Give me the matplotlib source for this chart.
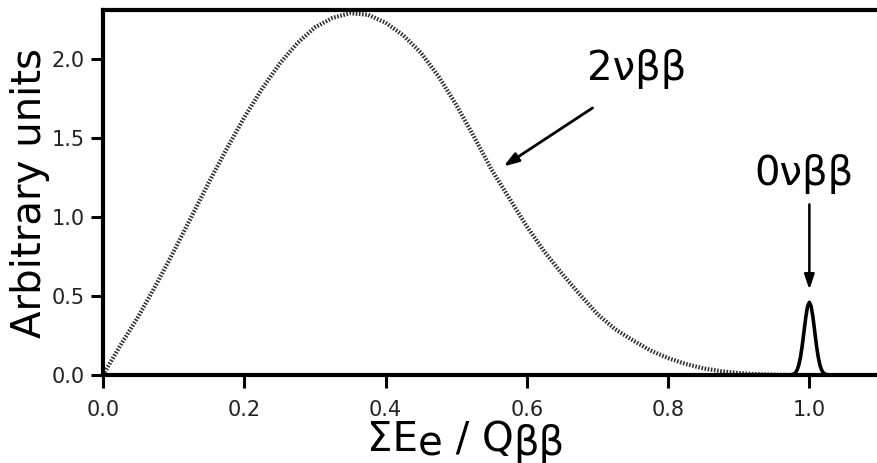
import matplotlib
matplotlib.use('Agg')
import matplotlib.pyplot as plt
import numpy as np

# 2vbb continuum (x in units of Q)
twoNuX = [0.000, 0.025, 0.050, 0.075, 0.100, 0.125, 0.150, 0.175, 0.200,
          0.225, 0.250, 0.275, 0.300, 0.325, 0.350, 0.375, 0.400, 0.425,
          0.450, 0.475, 0.500, 0.525, 0.550, 0.575, 0.600, 0.625, 0.650,
          0.675, 0.700, 0.725, 0.750, 0.775, 0.800, 0.825, 0.850, 0.875,
          0.900, 0.925, 0.950, 0.975, 1.000]
twoNuY = [0.00, 0.19, 0.37, 0.57, 0.78, 1.00, 1.22, 1.43, 1.63,
          1.81, 1.97, 2.10, 2.20, 2.26, 2.29, 2.28, 2.23, 2.15,
          2.04, 1.89, 1.71, 1.51, 1.30, 1.12, 0.94, 0.78, 0.64,
          0.51, 0.385, 0.29, 0.22, 0.155, 0.107, 0.07, 0.042, 0.024,
          0.012, 0.005, 0.002, 0.0, 0.0]

# 0vbb peak at the endpoint
zeroNuX = [0.940, 0.970, 0.975, 0.9775, 0.980, 0.9825, 0.985, 0.9875, 0.990,
           0.9925, 0.995, 0.9975, 1.000, 1.0025, 1.005, 1.0075, 1.010,
           1.0125, 1.015, 1.0175, 1.020, 1.0225, 1.025, 1.030, 1.060]
zeroNuY = [0.0, 0.0, 0.002, 0.005, 0.013, 0.030, 0.062, 0.115, 0.189,
           0.279, 0.368, 0.435, 0.460, 0.435, 0.368, 0.279, 0.189,
           0.115, 0.062, 0.030, 0.013, 0.005, 0.002, 0.0, 0.0]

xTicks = [0.0, 0.2, 0.4, 0.6, 0.8, 1.0]
yTicks = [0.0, 0.5, 1.0, 1.5, 2.0]

# figure settings
figW, figH, figDPI = 877, 463, 100
labelSize = 29
tickSize = 15
tickColor = '#222222'

fig = plt.figure(figsize=(figW / figDPI, figH / figDPI), dpi=figDPI)
ax = fig.add_axes([103 / figW, 88 / figH, 777 / figW, 365 / figH])

ax.plot(twoNuX, twoNuY, color='#303030', lw=3.0,
        linestyle=(0, (0.38, 0.38)), solid_capstyle='butt')
ax.plot(zeroNuX, zeroNuY, color='black', lw=2.6, solid_joinstyle='round')

ax.set_xlim(0, 1.1)
ax.set_ylim(0, 2.31)
ax.set_xticks(xTicks)
ax.set_yticks(yTicks)
ax.set_xticklabels(['%.1f' % v for v in xTicks])
ax.set_yticklabels(['%.1f' % v for v in yTicks])

for side in ['left', 'bottom', 'top']:
    ax.spines[side].set_linewidth(3)
ax.spines['right'].set_visible(False)
ax.tick_params(axis='both', direction='out', length=9, width=2.2,
               labelsize=tickSize, labelcolor=tickColor)
ax.tick_params(axis='x', pad=9)
ax.tick_params(axis='y', pad=4)

# annotations
ax.annotate('', xy=(0.567, 1.32), xytext=(0.693, 1.69),
            arrowprops=dict(arrowstyle='-|>,head_length=0.9,head_width=0.3',
                            color='black', lw=2, shrinkA=0, shrinkB=0))
ax.text(0.755, 1.87, '2νββ', fontsize=labelSize, ha='center', va='baseline')

ax.annotate('', xy=(1.0, 0.54), xytext=(1.0, 1.08),
            arrowprops=dict(arrowstyle='-|>,head_length=0.9,head_width=0.3',
                            color='black', lw=1.8, shrinkA=0, shrinkB=0))
ax.text(0.993, 1.20, '0νββ', fontsize=labelSize, ha='center', va='baseline')

# y label
fig.text(30 / figW, 1 - 193 / figH, 'Arbitrary units', fontsize=labelSize,
         rotation=90, ha='center', va='center')

# x label built from pieces so the subscripts keep full size
fig.canvas.draw()
renderer = fig.canvas.get_renderer()
pieces = [('ΣE', 0), ('e', -5), (' / Q', 0), ('ββ', -4)]
xPos = 367
baseY = figH - 451
for txt, dy in pieces:
    t = fig.text(xPos / figW, (baseY + dy) / figH, txt, fontsize=labelSize,
                 ha='left', va='baseline')
    bb = t.get_window_extent(renderer)
    xPos = bb.x1

fig.savefig('out.png', dpi=figDPI)
